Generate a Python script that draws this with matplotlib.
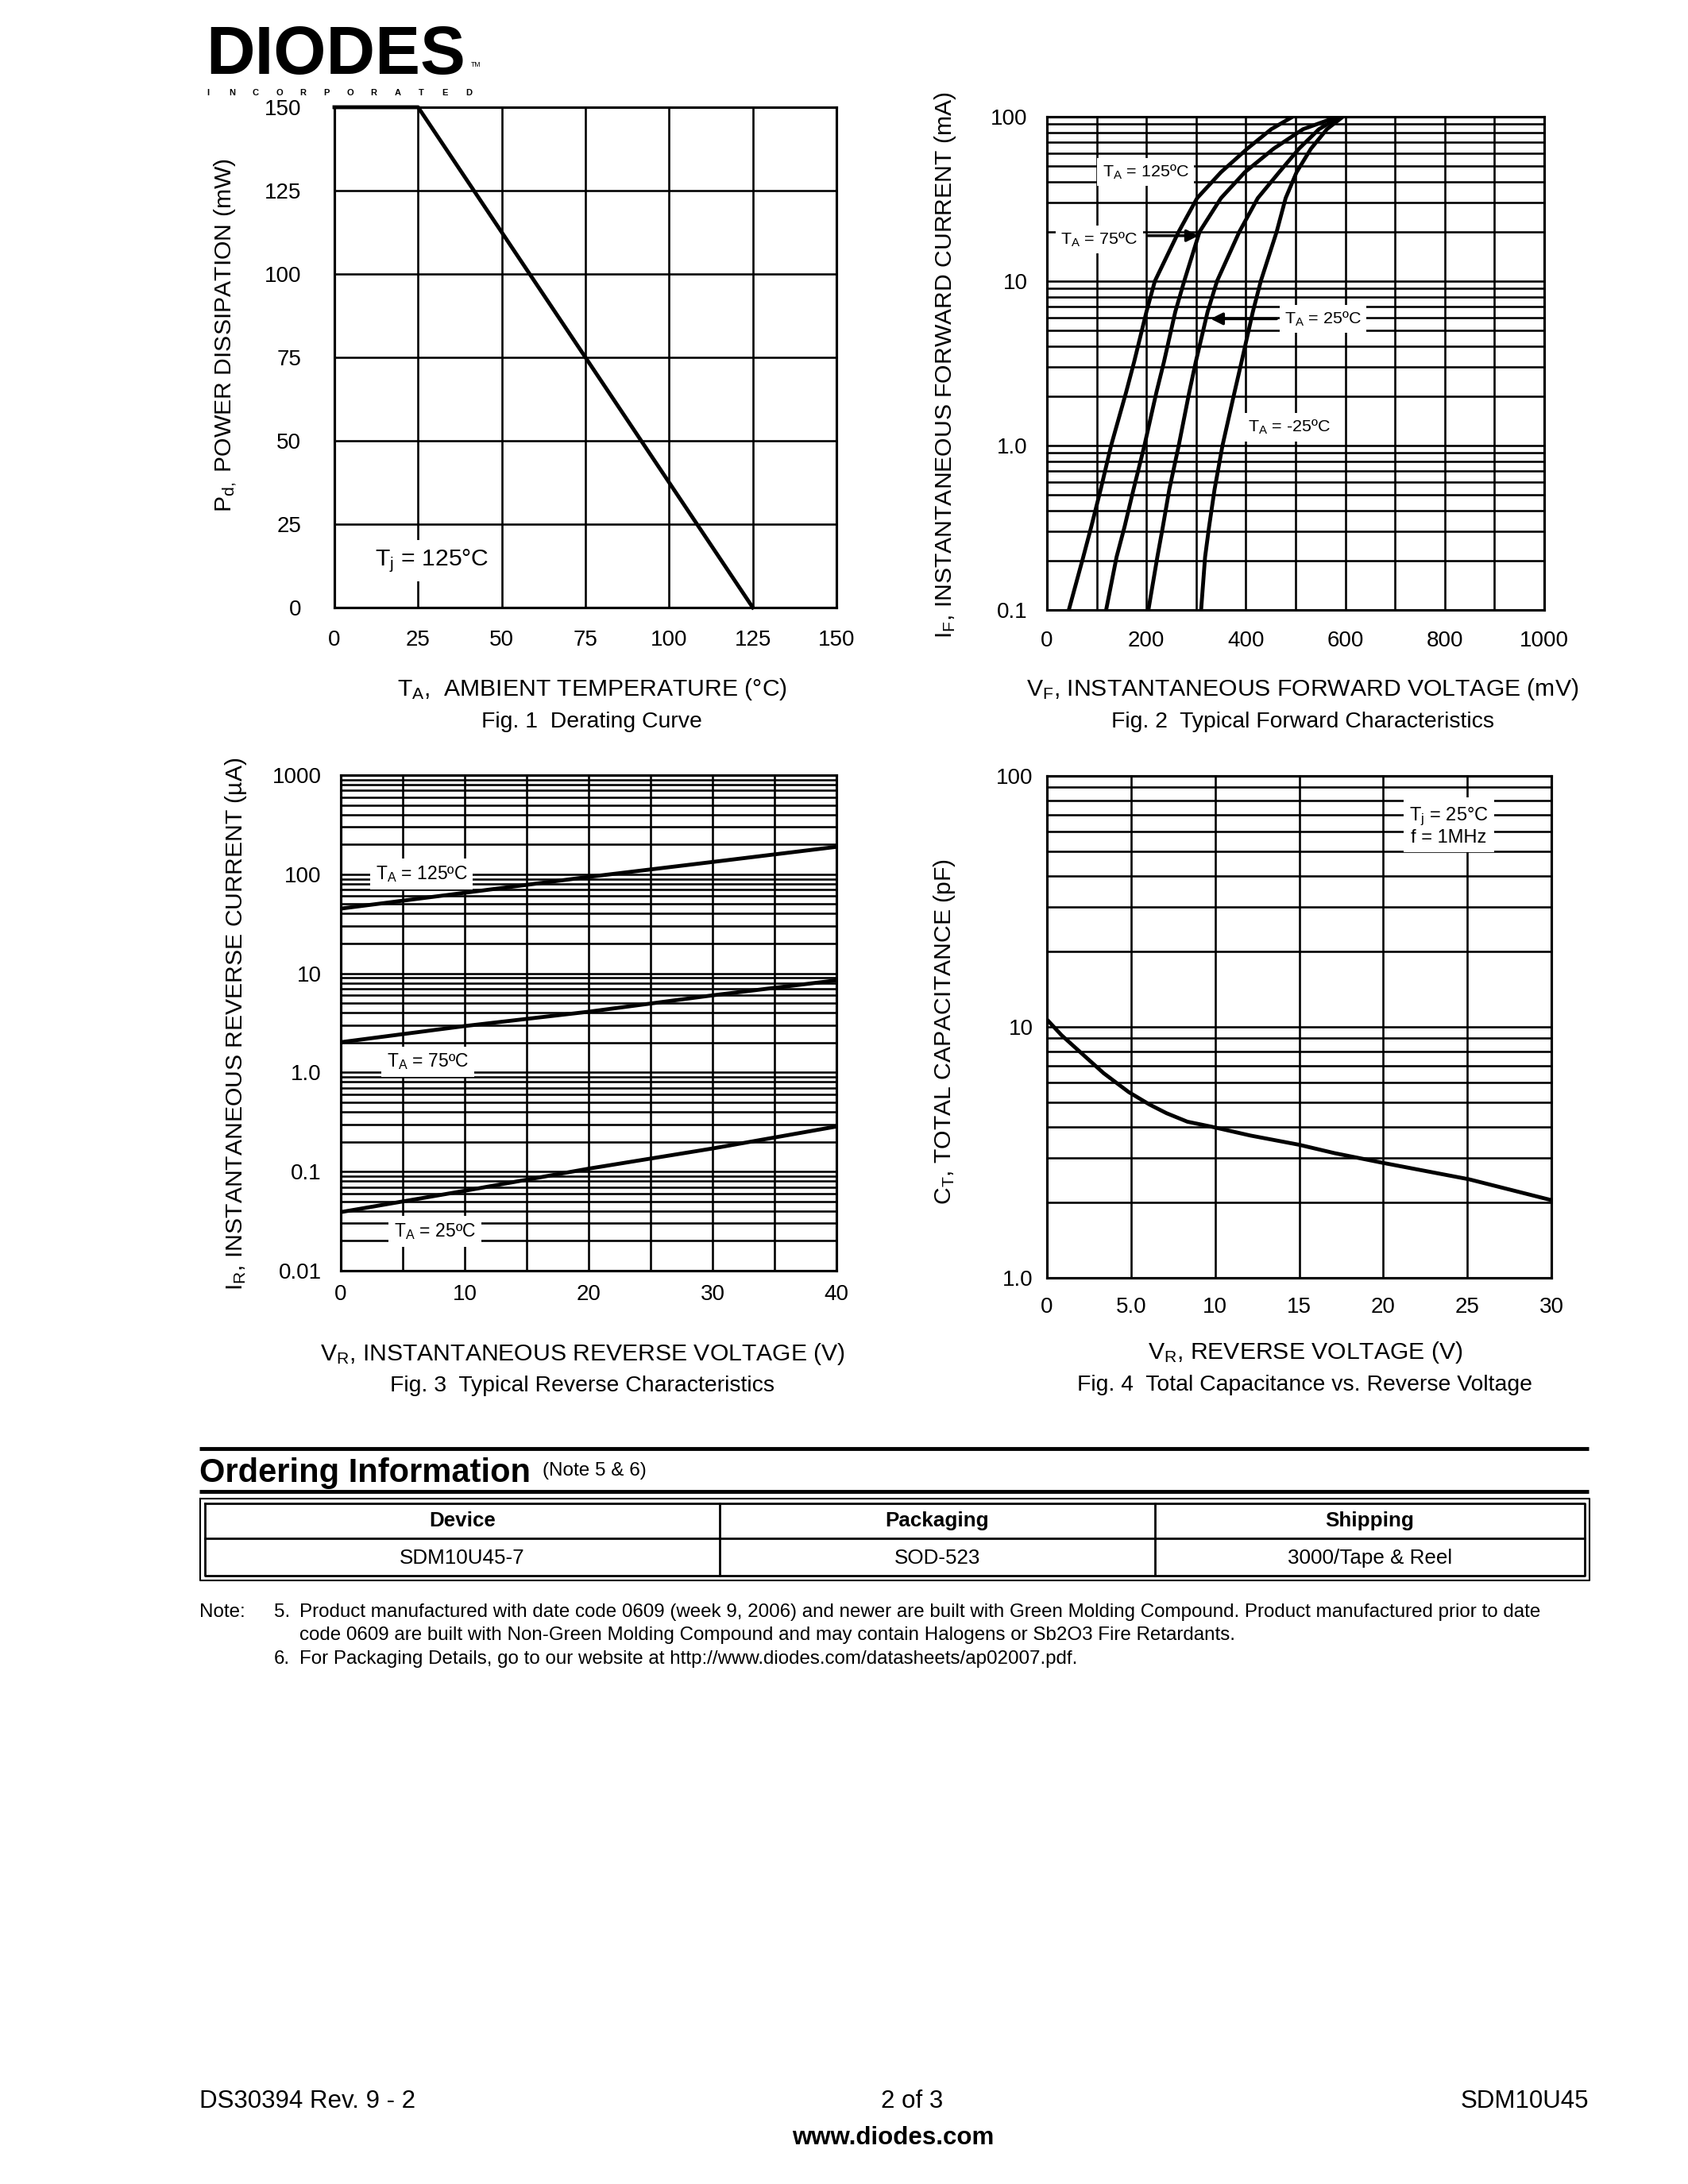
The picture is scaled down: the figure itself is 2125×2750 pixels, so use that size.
import numpy as np
import matplotlib
matplotlib.use("Agg")
import matplotlib.pyplot as plt
from matplotlib.ticker import LogLocator, NullFormatter, FixedLocator

plt.rcParams["font.family"] = ["Liberation Sans", "DejaVu Sans"]
plt.rcParams["mathtext.fontset"] = "custom"
plt.rcParams["mathtext.rm"] = "Liberation Sans"
plt.rcParams["mathtext.it"] = "Liberation Sans:italic"
plt.rcParams["mathtext.bf"] = "Liberation Sans:bold"

# ---- Fig. 1 derating curve ----
derate_temp = [0, 25, 125]          # ambient temperature (C)
derate_power = [150, 150, 0]        # power dissipation (mW)

# ---- Fig. 2 forward characteristics (current mA, voltage mV per temperature) ----
fwd_current = [0.1, 0.21, 0.32, 0.54, 1.0, 2.1, 3.2, 6.5, 10, 20, 32, 46, 64, 84, 100]
fwd_v_125 = [44, 73, 89, 108, 129, 159, 175, 200, 217, 265, 302, 350, 403, 451, 494]
fwd_v_75 = [119, 140, 156, 174, 196, 220, 235, 258, 276, 307, 350, 398, 456, 515, 584]
fwd_v_25 = [204, 222, 233, 246, 265, 286, 299, 323, 342, 387, 424, 467, 507, 547, 589]
fwd_v_m25 = [310, 318, 326, 337, 353, 377, 391, 414, 430, 462, 480, 502, 531, 563, 595]

# ---- Fig. 3 reverse characteristics (uA) ----
rev_voltage = [0, 10, 20, 30, 40]
rev_i_125 = [45, 65, 94, 133, 189]
rev_i_75 = [2.02, 2.94, 4.1, 6.0, 8.5]
rev_i_25 = [0.039, 0.064, 0.107, 0.171, 0.285]

# ---- Fig. 4 capacitance ----
cap_voltage = [0, 0.87, 2.12, 3.37, 4.86, 6.11, 7.11, 8.35, 9.8, 12.1, 15.0, 17.1, 20.0, 25.1, 30]
cap_pf = [10.7, 9.26, 7.78, 6.54, 5.50, 4.90, 4.53, 4.19, 4.00, 3.69, 3.39, 3.14, 2.87, 2.47, 2.04]

# ---- ordering table ----
table_header = ["Device", "Packaging", "Shipping"]
table_row = ["SDM10U45-7", "SOD-523", "3000/Tape & Reel"]

W, H = 2125, 2750
fig = plt.figure(figsize=(8.5, 11), dpi=250)
fig.patch.set_facecolor("white")

page = fig.add_axes([0, 0, 1, 1])
page.set_xlim(0, W)
page.set_ylim(H, 0)
page.axis("off")

GRID_LW = 0.75
CURVE_LW = 1.4
TICK_FS = 8
LABEL_FS = 8.7
CAP_FS = 8.2
BOX = dict(boxstyle="square,pad=0.3", fc="white", ec="none")


def chart_axes(l, t, r, b):
    ax = fig.add_axes([l / W, 1 - b / H, (r - l) / W, (b - t) / H])
    ax.set_axisbelow(True)
    for s in ax.spines.values():
        s.set_linewidth(0.9)
    ax.tick_params(which="both", length=0, labelsize=TICK_FS)
    ax.grid(True, which="both", color="black", lw=GRID_LW)
    return ax


def log_grid(ax):
    ax.set_yscale("log")
    ax.yaxis.set_minor_locator(LogLocator(base=10, subs=np.arange(2, 10)))
    ax.yaxis.set_minor_formatter(NullFormatter())


# ---- logo ----
page.text(259, 93, "DIODES", fontsize=24.5, fontweight="bold", ha="left", va="baseline")
page.plot([262, 430], [62, 62], color="white", lw=1.1)
page.fill([428, 428, 444], [55, 69, 62], color="white", lw=0)
page.text(593, 84, "TM", fontsize=2.5, ha="left", va="baseline")
for xx, ch in zip(np.linspace(262, 590, 12), "INCORPORATED"):
    page.text(xx, 117, ch, fontsize=3.2, fontweight="bold", ha="center", va="center")

# ---- Fig. 1 ----
ax1 = chart_axes(421, 135, 1053, 765)
ax1.plot(derate_temp, derate_power, color="black", lw=CURVE_LW, clip_on=False, zorder=4)
ax1.set_xlim(0, 150)
ax1.set_ylim(0, 150)
ax1.set_xticks(np.arange(0, 151, 25))
ax1.set_yticks(np.arange(0, 151, 25))
ax1.tick_params(axis="y", pad=12)
ax1.tick_params(axis="x", pad=8)
ax1.text(29, 14, r"$\mathregular{T_j}$ = 125°C", fontsize=8.7, ha="center", va="center", bbox=BOX)

page.text(284, 422, r"$\mathregular{P_{d,}}$ POWER DISSIPATION (mW)", fontsize=LABEL_FS,
          rotation=90, ha="center", va="center")
page.text(745, 868, r"$\mathregular{T_A}$,  AMBIENT TEMPERATURE (°C)", fontsize=LABEL_FS,
          ha="center", va="center")
page.text(745, 909, "Fig. 1  Derating Curve", fontsize=CAP_FS, ha="center", va="center")

# ---- Fig. 2 ----
ax2 = chart_axes(1318, 147, 1944, 768)
log_grid(ax2)
for vv in [fwd_v_125, fwd_v_75, fwd_v_25, fwd_v_m25]:
    ax2.plot(vv, fwd_current, color="black", lw=CURVE_LW, zorder=4)
ax2.set_xlim(0, 1000)
ax2.set_ylim(0.1, 100)
ax2.set_xticks(np.arange(0, 1001, 200))
ax2.xaxis.set_minor_locator(FixedLocator(np.arange(100, 1000, 200)))
ax2.set_yticks([0.1, 1, 10, 100])
ax2.set_yticklabels(["0.1", "1.0", "10", "100"])
ax2.tick_params(axis="y", pad=7)
ax2.tick_params(axis="x", pad=7.5)
ax2.text(198, 46, r"$\mathregular{T_A}$ = 125ºC", fontsize=6.2, ha="center", va="center", bbox=BOX, zorder=5)
ax2.text(105, 17.9, r"$\mathregular{T_A}$ = 75ºC", fontsize=6.2, ha="center", va="center", bbox=BOX, zorder=5)
ax2.text(555, 5.9, r"$\mathregular{T_A}$ = 25ºC", fontsize=6.2, ha="center", va="center", bbox=BOX, zorder=5)
ax2.text(488, 1.29, r"$\mathregular{T_A}$ = -25ºC", fontsize=6.2, ha="center", va="center", bbox=BOX, zorder=5)
arrow = dict(arrowstyle="-|>", color="black", lw=1.0, mutation_scale=9, shrinkA=0, shrinkB=0)
ax2.annotate("", xy=(305, 18.9), xytext=(203, 18.9), arrowprops=arrow, zorder=6)
ax2.annotate("", xy=(329, 5.9), xytext=(462, 5.9), arrowprops=arrow, zorder=6)

page.text(1190, 460, r"$\mathregular{I_F}$, INSTANTANEOUS FORWARD CURRENT (mA)", fontsize=LABEL_FS,
          rotation=90, ha="center", va="center")
page.text(1640, 868, r"$\mathregular{V_F}$, INSTANTANEOUS FORWARD VOLTAGE (mV)", fontsize=LABEL_FS,
          ha="center", va="center")
page.text(1640, 909, "Fig. 2  Typical Forward Characteristics", fontsize=CAP_FS, ha="center", va="center")

# ---- Fig. 3 ----
ax3 = chart_axes(429, 976, 1053, 1600)
log_grid(ax3)
for ii in [rev_i_125, rev_i_75, rev_i_25]:
    ax3.plot(rev_voltage, ii, color="black", lw=CURVE_LW, zorder=4)
ax3.set_xlim(0, 40)
ax3.set_ylim(0.01, 1000)
ax3.set_xticks([0, 10, 20, 30, 40])
ax3.xaxis.set_minor_locator(FixedLocator([5, 15, 25, 35]))
ax3.set_yticks([0.01, 0.1, 1, 10, 100, 1000])
ax3.set_yticklabels(["0.01", "0.1", "1.0", "10", "100", "1000"])
ax3.tick_params(axis="y", pad=7)
ax3.tick_params(axis="x", pad=5)
ax3.text(6.5, 100, r"$\mathregular{T_A}$ = 125ºC", fontsize=6.6, ha="center", va="center", bbox=BOX, zorder=5)
ax3.text(7.0, 1.28, r"$\mathregular{T_A}$ = 75ºC", fontsize=6.6, ha="center", va="center", bbox=BOX, zorder=5)
ax3.text(7.6, 0.025, r"$\mathregular{T_A}$ = 25ºC", fontsize=6.6, ha="center", va="center", bbox=BOX, zorder=5)

page.text(297, 1289, r"$\mathregular{I_R}$, INSTANTANEOUS REVERSE CURRENT (µA)", fontsize=LABEL_FS,
          rotation=90, ha="center", va="center")
page.text(733, 1705, r"$\mathregular{V_R}$, INSTANTANEOUS REVERSE VOLTAGE (V)", fontsize=LABEL_FS,
          ha="center", va="center")
page.text(733, 1745, "Fig. 3  Typical Reverse Characteristics", fontsize=CAP_FS, ha="center", va="center")

# ---- Fig. 4 ----
ax4 = chart_axes(1318, 977, 1953, 1609)
log_grid(ax4)
ax4.plot(cap_voltage, cap_pf, color="black", lw=CURVE_LW, zorder=4)
ax4.set_xlim(0, 30)
ax4.set_ylim(1, 100)
ax4.set_xticks([0, 5, 10, 15, 20, 25, 30])
ax4.set_xticklabels(["0", "5.0", "10", "15", "20", "25", "30"])
ax4.set_yticks([1, 10, 100])
ax4.set_yticklabels(["1.0", "10", "100"])
ax4.tick_params(axis="y", pad=5)
ax4.tick_params(axis="x", pad=7)
ax4.text(23.9, 63, r"$\mathregular{T_j}$ = 25°C" + "\n" + "f = 1MHz", fontsize=6.8, ha="center",
         va="center", linespacing=1.1, bbox=BOX, zorder=5)

page.text(1189, 1299, r"$\mathregular{C_T}$, TOTAL CAPACITANCE (pF)", fontsize=LABEL_FS,
          rotation=90, ha="center", va="center")
page.text(1643, 1703, r"$\mathregular{V_R}$, REVERSE VOLTAGE (V)", fontsize=LABEL_FS,
          ha="center", va="center")
page.text(1643, 1744, "Fig. 4  Total Capacitance vs. Reverse Voltage", fontsize=CAP_FS,
          ha="center", va="center")

# ---- ordering information ----
page.plot([251, 2000], [1824, 1824], color="black", lw=1.4, solid_capstyle="butt")
page.plot([251, 2000], [1878, 1878], color="black", lw=1.4, solid_capstyle="butt")
page.text(251, 1866, "Ordering Information", fontsize=12, fontweight="bold", ha="left", va="baseline")
page.text(683, 1858, "(Note 5 & 6)", fontsize=7, ha="left", va="baseline")

tl, tr, tt, tb = 252, 2001, 1887, 1990
page.plot([tl, tr, tr, tl, tl], [tt, tt, tb, tb, tt], color="black", lw=0.6)
il, ir, it, ib = tl + 6, tr - 6, tt + 6, tb - 6
page.plot([il, ir, ir, il, il], [it, it, ib, ib, it], color="black", lw=0.8)
page.plot([il, ir], [1937, 1937], color="black", lw=0.8)
col_edges = [il, 906, 1454, ir]
for cx in col_edges[1:-1]:
    page.plot([cx, cx], [it, ib], color="black", lw=0.8)
for k in range(3):
    cx = (col_edges[k] + col_edges[k + 1]) / 2
    page.text(cx, 1915, table_header[k], fontsize=7.5, fontweight="bold", ha="center", va="center")
    page.text(cx, 1962, table_row[k], fontsize=7.5, ha="center", va="center")

NOTE_FS = 6.95
page.text(251, 2030, "Note:", fontsize=NOTE_FS, ha="left", va="center")
page.text(345, 2030, "5.", fontsize=NOTE_FS, ha="left", va="center")
page.text(377, 2030, "Product manufactured with date code 0609 (week 9, 2006) and newer are built with Green "
          "Molding Compound. Product manufactured prior to date", fontsize=NOTE_FS, ha="left", va="center")
page.text(377, 2059, "code 0609 are built with Non-Green Molding Compound and may contain Halogens or Sb2O3 "
          "Fire Retardants.", fontsize=NOTE_FS, ha="left", va="center")
page.text(345, 2089, "6.", fontsize=NOTE_FS, ha="left", va="center")
page.text(377, 2089, "For Packaging Details, go to our website at http://www.diodes.com/datasheets/ap02007.pdf.",
          fontsize=NOTE_FS, ha="left", va="center")

# ---- footer ----
page.text(251, 2646, "DS30394 Rev. 9 - 2", fontsize=9, ha="left", va="center")
page.text(1148, 2646, "2 of 3", fontsize=9, ha="center", va="center")
page.text(2000, 2646, "SDM10U45", fontsize=9, ha="right", va="center")
page.text(1124, 2692, "www.diodes.com", fontsize=9, fontweight="bold", ha="center", va="center")

fig.savefig("out.png", dpi=250, facecolor="white")
